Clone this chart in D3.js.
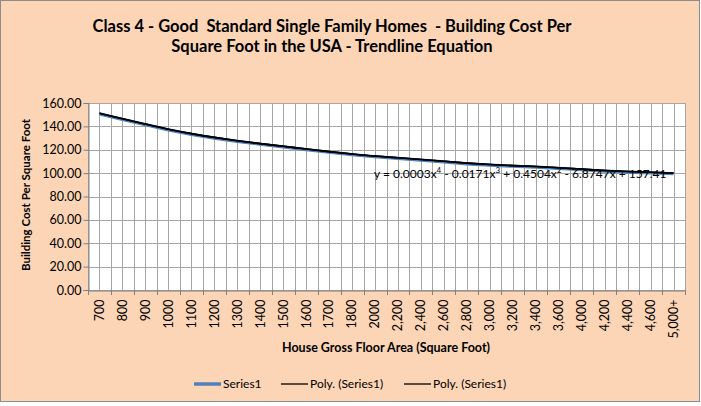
<!DOCTYPE html>
<html>
<head>
<meta charset="utf-8">
<script src="https://cdn.jsdelivr.net/npm/d3@7"></script>
<style>
  html, body { margin: 0; padding: 0; background: #fff; }
  svg { display: block; font-family: Lato, "Open Sans", sans-serif; }
</style>
</head>
<body>
<svg id="chart" width="701" height="406"></svg>
<script>
/* Building cost per square foot, Excel-style line chart with trendline */

const categories = ['700', '800', '900', '1000', '1100', '1200', '1300', '1400', '1500', '1600',
    '1700', '1800', '2000', '2,200', '2,400', '2,600', '2,800', '3,000', '3,200', '3,400',
    '3,600', '4,000', '4,200', '4,400', '4,600', '5,000+'];

const costPerSqFt = [151.2, 146.5, 142.0, 137.5, 133.7, 130.5, 127.7, 125.2, 123.0, 120.6,
    118.4, 116.4, 114.5, 113.2, 111.7, 110.1, 108.5, 107.3, 106.4, 105.7,
    104.6, 103.4, 102.2, 101.4, 100.7, 100.0];

const yTicks = [0, 20, 40, 60, 80, 100, 120, 140, 160];

const legendItems = ['Series1', 'Poly. (Series1)', 'Poly. (Series1)'];

const titleLines = [
    'Class 4 - Good  Standard Single Family Homes  - Building Cost Per',
    'Square Foot in the USA - Trendline Equation',
];

const plot = { left: 88, right: 685, top: 103, bottom: 290 };

const svg = d3.select('#chart');

// chart background + frame
svg.append('rect')
    .attr('x', 0.5).attr('y', 0.5)
    .attr('width', 699).attr('height', 401)
    .attr('fill', '#fbd5b5')
    .attr('stroke', '#8c8c8c');

const x = d3.scaleBand()
    .domain(categories)
    .range([plot.left, plot.right])
    .paddingInner(0).paddingOuter(0);

const y = d3.scaleLinear()
    .domain([0, 160])
    .range([plot.bottom, plot.top]);

svg.append('rect')
    .attr('x', plot.left).attr('y', plot.top)
    .attr('width', plot.right - plot.left)
    .attr('height', plot.bottom - plot.top)
    .attr('fill', '#ffffff');

// vertical gridlines: category boundaries and centers
const grid = svg.append('g').attr('stroke', '#a6a6a6').attr('stroke-width', 1);
const vLines = [];
categories.forEach((c) => {
    vLines.push(x(c));
    vLines.push(x(c) + x.bandwidth() / 2);
});
vLines.push(plot.right);
grid.selectAll('line.v')
    .data(vLines)
    .join('line')
    .attr('class', 'v')
    .attr('x1', (d) => Math.round(d) + 0.5)
    .attr('x2', (d) => Math.round(d) + 0.5)
    .attr('y1', plot.top)
    .attr('y2', plot.bottom);

grid.selectAll('line.h')
    .data(yTicks)
    .join('line')
    .attr('class', 'h')
    .attr('x1', plot.left)
    .attr('x2', plot.right)
    .attr('y1', (d) => Math.round(y(d)) + 0.5)
    .attr('y2', (d) => Math.round(y(d)) + 0.5);

// y axis
const yAxis = svg.append('g')
    .attr('transform', `translate(${plot.left + 0.5},0)`)
    .call(d3.axisLeft(y).tickValues(yTicks).tickFormat(d3.format('.2f')).tickSizeOuter(0).tickSize(5));
yAxis.select('.domain').attr('stroke', '#808080');
yAxis.selectAll('.tick line').attr('stroke', '#808080');
yAxis.selectAll('.tick text')
    .attr('x', -7)
    .attr('font-size', 12.5)
    .attr('fill', '#000')
    .attr('font-family', 'Lato, sans-serif');

// x axis
const xAxis = svg.append('g')
    .attr('transform', `translate(0,${plot.bottom + 0.5})`)
    .call(d3.axisBottom(x).tickSize(0).tickSizeOuter(0));
xAxis.select('.domain').attr('stroke', '#808080');
xAxis.selectAll('.tick text')
    .attr('transform', 'rotate(-90)')
    .attr('text-anchor', 'end')
    .attr('x', -9)
    .attr('y', 0)
    .attr('dy', '0.35em')
    .attr('font-size', 12.5)
    .attr('fill', '#000')
    .attr('font-family', 'Lato, sans-serif');

// x tick marks sit on category boundaries
svg.append('g')
    .attr('stroke', '#808080')
    .selectAll('line')
    .data(categories.map((c) => x(c)).concat([plot.right]))
    .join('line')
    .attr('x1', (d) => Math.round(d) + 0.5)
    .attr('x2', (d) => Math.round(d) + 0.5)
    .attr('y1', plot.bottom)
    .attr('y2', plot.bottom + 5);

// series
const points = categories.map((c, i) => ({ cat: c, value: costPerSqFt[i] }));
const cx = (d) => x(d.cat) + x.bandwidth() / 2;

svg.append('path')
    .datum(points)
    .attr('fill', 'none')
    .attr('stroke', '#4f81bd')
    .attr('stroke-width', 3.2)
    .attr('stroke-linejoin', 'round')
    .attr('d', d3.line().x(cx).y((d) => y(d.value) + 0.6));

// trendlines (both drawn; they coincide)
const trend = d3.line().x(cx).y((d) => y(d.value)).curve(d3.curveBasis);
[0, 1].forEach(() => {
    svg.append('path')
        .datum(points)
        .attr('fill', 'none')
        .attr('stroke', '#000')
        .attr('stroke-width', 1.6)
        .attr('d', trend);
});

// trendline equation (superscripts raised, following text lowered back)
const eq = svg.append('text')
    .attr('x', 374)
    .attr('y', 178)
    .attr('font-size', 12)
    .attr('fill', '#000')
    .attr('font-family', 'Lato, sans-serif');
const eqParts = [
    ['y = 0.0003x', 0], ['4', -5], [' - 0.0171x', 5], ['3', -5],
    [' + 0.4504x', 5], ['2', -5], [' - 6.8747x + 157.41', 5],
];
eqParts.forEach(([t, dy]) => {
    eq.append('tspan')
        .attr('dy', dy)
        .attr('font-size', dy < 0 ? 8 : 12)
        .text(t);
});
eq.attr('xml:space', 'preserve').style('white-space', 'pre');

// title
svg.append('g')
    .selectAll('text')
    .data(titleLines)
    .join('text')
    .attr('x', 332)
    .attr('y', (d, i) => 32 + i * 20)
    .attr('text-anchor', 'middle')
    .attr('font-size', 16.5)
    .attr('font-weight', 'bold')
    .attr('fill', '#000')
    .style('white-space', 'pre')
    .text((d) => d);

// axis titles
svg.append('text')
    .attr('transform', 'translate(30,195) rotate(-90)')
    .attr('text-anchor', 'middle')
    .attr('font-size', 11.5)
    .attr('font-weight', 'bold')
    .text('Building Cost Per Square Foot');

svg.append('text')
    .attr('x', 386)
    .attr('y', 352)
    .attr('text-anchor', 'middle')
    .attr('font-size', 12.5)
    .attr('font-weight', 'bold')
    .text('House Gross Floor Area (Square Foot)');

// legend
const legendX = [194, 281, 404];
const legend = svg.append('g')
    .selectAll('g')
    .data(legendItems)
    .join('g')
    .attr('transform', (d, i) => `translate(${legendX[i]},384)`);
legend.append('line')
    .attr('x1', 0).attr('x2', 27)
    .attr('stroke', (d, i) => (i === 0 ? '#4f81bd' : '#000'))
    .attr('stroke-width', (d, i) => (i === 0 ? 3.5 : 1.3));
legend.append('text')
    .attr('x', 29)
    .attr('dy', '0.35em')
    .attr('font-size', 12)
    .text((d) => d);
</script>
</body>
</html>
